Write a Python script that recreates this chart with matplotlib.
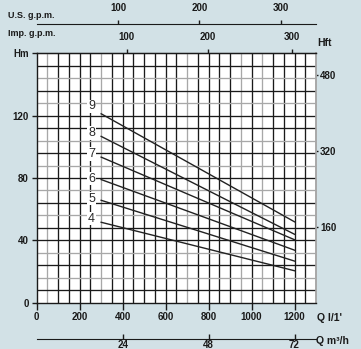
import numpy as np
import matplotlib.pyplot as plt

plt.rcParams['font.family'] = ['Liberation Sans', 'DejaVu Sans']

# pump stages: head H (m) at Q = 300 and Q = 1200 l/min
stages = ['4', '5', '6', '7', '8', '9']
q_curve = [300, 1200]
h_start = [51.6, 65.7, 79.0, 93.4, 106.7, 121.2]
h_end = [20.5, 26.7, 33.7, 40.4, 43.9, 51.9]
label_q = 255
label_h = [54.0, 66.8, 79.6, 95.2, 109.0, 125.9]

q_ticks = [0, 200, 400, 600, 800, 1000, 1200]
h_ticks = [0, 40, 80, 120, 160]
h_ticklabels = ['0', '40', '80', '120', 'Hm']
hft_ticks = [160, 320, 480]
m3h_ticks = [24, 48, 72]
usgpm_ticks = [100, 200, 300]
impgpm_ticklabels = ['100', '200', '300']
impgpm_ticks_lpm = [420, 795, 1188]

bg = '#d2e1e6'
ink = '#1a1a1a'
grey = '#a8a8a8'

W, H = 361, 349
fig = plt.figure(figsize=(W / 100, H / 100), dpi=100, facecolor=bg)
x0, x1 = 36.7, 316.0
ytop, ybot = 53.3, 302.7
ax = fig.add_axes([x0 / W, 1 - ybot / H, (x1 - x0) / W, (ybot - ytop) / H])
ax.set_facecolor('white')
ax.set_xlim(0, 1300)
ax.set_ylim(0, 160)

# grid: 50 l/min by 8 m, some lines printed lighter
vgrey = [50, 300, 700, 950, 1050]
hgrey = [16, 32, 56, 72, 88, 104, 128, 144]
for q in np.arange(50, 1300, 50):
    ax.axvline(q, color=grey if q in vgrey else ink, lw=0.95, zorder=1)
for h in np.arange(8, 160, 8):
    ax.axhline(h, color=grey if h in hgrey else ink, lw=0.95, zorder=1)

for s in ['left', 'top', 'bottom']:
    ax.spines[s].set_color(ink)
    ax.spines[s].set_linewidth(1.0)
ax.spines['right'].set_color(grey)
ax.spines['right'].set_linewidth(1.2)

for i, st in enumerate(stages):
    ax.plot(q_curve, [h_start[i], h_end[i]], color='#222222', lw=1.0, zorder=3)
    ax.text(label_q, label_h[i], st, fontsize=9, color='#2b2b2b',
            ha='center', va='center', zorder=4,
            bbox=dict(facecolor='white', edgecolor='none', pad=0.6))

tick_font = dict(fontsize=7, fontweight='bold', color=ink)

ax.set_xticks(q_ticks)
ax.set_xticklabels([str(t) for t in q_ticks], **tick_font)
ax.tick_params(axis='x', direction='out', length=5, width=1, pad=2, colors=ink)
ax.set_yticks(h_ticks)
ax.set_yticklabels(h_ticklabels, **tick_font)
ax.tick_params(axis='y', direction='out', length=3.8, width=1, pad=2, colors=ink)

# head in feet
axr = ax.secondary_yaxis('right', functions=(lambda m: m * 3.2808, lambda f: f / 3.2808))
axr.set_yticks(hft_ticks)
axr.set_yticklabels([str(t) for t in hft_ticks], **tick_font)
axr.tick_params(direction='out', length=1.6, width=1, pad=1.2, colors=ink)
axr.spines['right'].set_color(grey)
axr.spines['right'].set_linewidth(1.2)

# Imp. g.p.m. on the top frame
axi = ax.secondary_xaxis('top')
axi.set_xticks(impgpm_ticks_lpm)
axi.set_xticklabels(impgpm_ticklabels, **tick_font)
axi.tick_params(direction='out', length=3, width=1, pad=5, colors=ink)

# U.S. g.p.m. line above
loc_us = 1 + (ytop - 24.3) / (ybot - ytop)
axu = ax.secondary_xaxis(loc_us, functions=(lambda q: q / 3.785, lambda g: g * 3.785))
axu.set_xticks(usgpm_ticks)
axu.set_xticklabels([str(t) for t in usgpm_ticks], **tick_font)
axu.tick_params(direction='out', length=3, width=1, pad=5, colors=ink)
axu.spines['top'].set_color(ink)

# m3/h line below
loc_m3 = -(339.0 - ybot) / (ybot - ytop)
axm = ax.secondary_xaxis(loc_m3, functions=(lambda q: q * 0.06, lambda m: m / 0.06))
axm.set_xticks(m3h_ticks)
axm.set_xticklabels([str(t) for t in m3h_ticks], **tick_font)
axm.tick_params(direction='in', length=3.4, width=1, pad=0.8, colors=ink)
axm.spines['bottom'].set_color(ink)

lab_font = dict(fontweight='bold', color=ink, va='center', ha='left')
fig.text(8 / W, 1 - 16 / H, 'U.S. g.p.m.', fontsize=6.5, **lab_font)
fig.text(8 / W, 1 - 33 / H, 'Imp. g.p.m.', fontsize=6.5, **lab_font)
fig.text(317 / W, 1 - 43.5 / H, 'Hft', fontsize=7.5, **lab_font)
fig.text(317 / W, 1 - 317.7 / H, "Q l/1'", fontsize=7.5, **lab_font)
fig.text(316 / W, 1 - 341.5 / H, 'Q m³/h', fontsize=7.5, **lab_font)

fig.savefig('out.png', dpi=100, facecolor=bg)
